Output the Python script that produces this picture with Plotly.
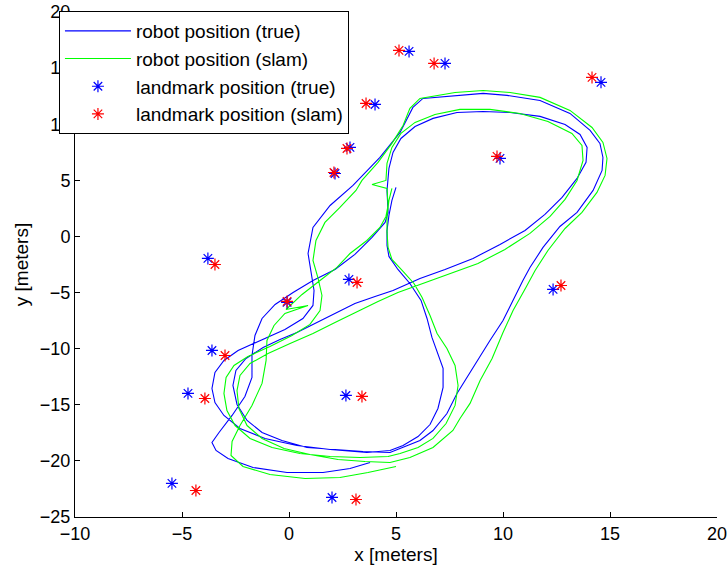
import plotly.graph_objects as go

# ---------------- data ----------------
# robot path, ground truth  (x, y) in meters
true_path = [
    (5.00, 4.37), (4.81, 3.21), (4.67, 1.87), (4.58, 0.53), (4.58, -0.80), (4.67, -1.78),
    (5.09, -2.94), (5.65, -4.19), (6.17, -5.70), (6.45, -7.31), (6.68, -9.00), (6.96, -10.43),
    (7.20, -11.76), (7.20, -13.46), (6.96, -15.33), (6.59, -16.76), (6.03, -17.83), (5.33, -18.63),
    (4.72, -19.07), (3.64, -19.25), (1.92, -18.98), (0.37, -18.63), (-1.12, -18.00), (-2.29, -17.11),
    (-3.04, -15.95), (-3.46, -14.80), (-3.60, -13.55), (-3.46, -12.12), (-3.04, -11.05), (-2.38, -10.16),
    (-1.36, -9.27), (-0.19, -8.29), (0.65, -7.31), (1.12, -6.15), (1.17, -4.81), (1.03, -3.21),
    (0.89, -1.52), (1.12, 0.80), (1.92, 2.76), (2.99, 4.55), (4.25, 7.04), (5.19, 9.27),
    (5.79, 11.50), (6.26, 12.30), (7.85, 12.57), (9.07, 12.75), (10.19, 12.57), (11.73, 12.12),
    (13.13, 10.96), (14.07, 9.45), (14.53, 8.29), (14.67, 7.04), (14.63, 5.88), (14.21, 4.10),
    (13.46, 2.14), (12.66, 0.89), (11.87, -0.98), (11.26, -2.76), (10.93, -3.92), (10.42, -5.88),
    (10.00, -7.49), (9.39, -9.27), (8.60, -11.68), (7.85, -13.99), (7.38, -15.78), (6.73, -17.29),
    (6.12, -18.18), (5.33, -18.81), (4.72, -19.25), (3.46, -19.16), (2.15, -18.98), (0.84, -18.81),
    (-0.33, -18.18), (-1.26, -17.47), (-1.96, -16.40), (-2.43, -14.97), (-2.62, -13.28), (-2.48, -11.94),
    (-2.01, -10.87), (-1.21, -9.89), (-0.42, -9.18), (0.37, -8.56), (1.21, -7.75), (2.15, -6.86),
    (3.08, -5.97), (4.02, -5.35), (4.86, -4.81), (6.12, -3.74), (7.29, -2.94), (8.60, -1.96),
    (9.86, -0.71), (11.03, 0.53), (11.96, 1.96), (12.76, 3.48), (13.46, 5.17), (13.88, 6.60),
    (13.93, 7.93), (13.60, 9.09), (12.90, 9.98), (11.73, 10.70), (10.33, 11.05), (9.07, 11.14),
    (7.85, 11.05), (6.73, 10.52), (5.89, 9.80), (5.23, 8.73), (4.86, 7.49), (4.67, 6.06),
    (4.58, 4.10), (4.63, 2.14), (4.49, 1.25), (3.88, -0.09), (3.08, -1.60), (2.15, -2.94),
    (1.12, -3.92), (0.19, -4.99), (-0.65, -6.06), (-1.26, -7.31), (-1.59, -8.82), (-1.73, -10.61),
    (-1.73, -12.57), (-2.06, -14.26), (-2.66, -15.95), (-3.27, -17.47), (-3.60, -18.36), (-3.41, -19.07),
    (-2.85, -19.79), (-1.68, -20.59), (-0.09, -21.03), (1.59, -21.03), (2.85, -20.68), (3.79, -20.14),
]

# robot path, SLAM estimate (x, y) in meters
slam_path = [
    (4.81, 4.28), (4.67, 3.21), (4.58, 1.87), (4.58, 0.36), (4.63, -0.98), (4.81, -2.05),
    (5.33, -3.12), (5.84, -4.19), (6.22, -5.44), (6.59, -7.04), (6.92, -8.65), (7.38, -9.98),
    (7.76, -11.50), (7.90, -13.28), (7.76, -15.06), (7.34, -16.67), (6.73, -18.00), (6.03, -18.81),
    (5.19, -19.34), (4.63, -19.61), (3.32, -19.70), (1.92, -19.61), (0.51, -19.34), (-0.79, -18.81),
    (-1.82, -18.00), (-2.52, -16.85), (-2.90, -15.51), (-3.04, -13.99), (-2.94, -12.57), (-2.57, -11.50),
    (-1.92, -10.70), (-0.89, -9.80), (0.14, -8.82), (0.98, -7.84), (1.45, -6.60), (1.54, -5.26),
    (1.36, -3.74), (1.12, -2.14), (1.26, -0.36), (1.68, 1.25), (2.38, 2.58), (2.85, 3.57),
    (3.13, 4.10), (3.41, 4.99), (4.16, 6.60), (4.81, 8.29), (5.33, 9.89), (5.65, 11.41),
    (6.12, 12.30), (7.76, 12.83), (9.07, 13.01), (10.33, 12.83), (11.73, 12.39), (13.13, 11.23),
    (14.16, 9.71), (14.67, 8.38), (14.86, 6.95), (14.77, 5.44), (14.39, 3.92), (13.69, 2.14),
    (12.90, 0.71), (12.10, -1.25), (11.50, -3.03), (11.07, -4.55), (10.47, -6.60), (10.00, -8.56),
    (9.49, -10.87), (8.93, -12.83), (8.46, -14.88), (7.99, -16.22), (7.66, -17.29), (6.73, -18.81),
    (5.65, -19.70), (4.72, -20.14), (3.55, -20.05), (2.29, -19.88), (0.98, -19.43), (-0.23, -18.90),
    (-1.26, -18.00), (-1.96, -16.85), (-2.34, -15.33), (-2.43, -13.73), (-2.29, -12.39), (-1.82, -11.32),
    (-0.98, -10.43), (0.05, -9.54), (1.12, -8.65), (2.15, -7.66), (3.18, -6.68), (4.16, -5.79),
    (5.09, -4.99), (6.36, -4.10), (7.52, -3.30), (8.83, -2.41), (10.09, -1.16), (11.26, 0.27),
    (12.20, 1.78), (12.90, 3.30), (13.46, 4.99), (13.74, 6.77), (13.69, 8.11), (13.22, 9.18),
    (12.10, 10.25), (10.79, 10.96), (9.39, 11.32), (7.99, 11.32), (6.82, 10.87), (5.89, 10.16),
    (5.23, 9.18), (4.81, 7.93), (4.58, 6.51), (4.53, 4.99), (3.88, 4.63), (4.58, 4.28),
    (4.63, 2.76), (4.53, 1.78), (4.25, 0.80), (3.64, -0.36), (2.85, -1.52), (2.24, -2.76),
    (1.45, -3.92), (0.61, -5.17), (-0.14, -6.51), (0.89, -6.15), (-0.19, -6.86), (-0.70, -7.93),
    (-1.03, -9.27), (-1.07, -11.05), (-1.26, -13.10), (-1.73, -15.06), (-2.29, -16.85), (-2.66, -18.27),
    (-2.71, -19.52), (-2.15, -20.50), (-0.89, -21.21), (0.75, -21.57), (2.38, -21.48), (3.69, -21.03),
    (5.00, -20.50),
]

# landmarks, ground truth
lm_true_x = [5.61, 7.29, 14.58, 4.02, 2.85, 2.15, 9.86, -3.79, 2.80, 12.34, -0.09, -3.60, -4.72, 2.66, -5.47, 2.01]
lm_true_y = [16.49, 15.42, 13.73, 11.76, 7.93, 5.61, 6.95, -1.96, -3.83, -4.72, -5.88, -10.16, -13.99, -14.17, -22.01, -23.26]
# landmarks, SLAM estimate
lm_slam_x = [5.14, 6.78, 14.16, 3.60, 2.71, 2.10, 9.72, -3.46, 3.18, 12.71, -0.09, -2.99, -3.93, 3.41, -4.35, 3.13]
lm_slam_y = [16.58, 15.42, 14.17, 11.85, 7.84, 5.70, 7.13, -2.50, -4.10, -4.37, -5.79, -10.61, -14.44, -14.26, -22.64, -23.44]

x_ticks = [-10, -5, 0, 5, 10, 15, 20]
y_ticks = [-25, -20, -15, -10, -5, 0, 5, 10, 15, 20]

# ---------------- figure ----------------
FONT = "Liberation Sans, Arial, Helvetica, sans-serif"

fig = go.Figure()
fig.add_trace(go.Scatter(
    x=[p[0] for p in true_path], y=[p[1] for p in true_path],
    mode="lines", name="robot position (true)", legendgroup="g1",
    line=dict(color="#0000FF", width=1.1),
))
fig.add_trace(go.Scatter(
    x=[p[0] for p in slam_path], y=[p[1] for p in slam_path],
    mode="lines", name="robot position (slam)", legendgroup="g2",
    line=dict(color="#00FF00", width=1.1),
))
fig.add_trace(go.Scatter(
    x=lm_true_x, y=lm_true_y, mode="markers", name="landmark position (true)", legendgroup="g3",
    marker=dict(symbol="asterisk-open", size=10, color="#0000FF",
                line=dict(color="#0000FF", width=1.2)),
))
fig.add_trace(go.Scatter(
    x=lm_slam_x, y=lm_slam_y, mode="markers", name="landmark position (slam)", legendgroup="g4",
    marker=dict(symbol="asterisk-open", size=10, color="#FF0000",
                line=dict(color="#FF0000", width=1.2)),
))

fig.update_layout(
    width=728, height=573,
    margin=dict(l=75, r=11, t=12, b=56, pad=0, autoexpand=False),
    paper_bgcolor="white", plot_bgcolor="white",
    font=dict(family=FONT, size=18, color="black"),
    showlegend=True,
    legend=dict(
        x=-0.025, y=1.002, xanchor="left", yanchor="top",
        bgcolor="white", bordercolor="black", borderwidth=1,
        itemwidth=66, tracegroupgap=0,
        font=dict(family=FONT, size=19, color="black"),
        traceorder="normal",
    ),
    xaxis=dict(
        range=[-10, 20], tickmode="array", tickvals=x_ticks,
        ticks="inside", ticklen=5, tickwidth=1, tickcolor="black",
        showline=True, linecolor="black", linewidth=1, mirror=False,
        showgrid=False, zeroline=False,
        title=dict(text="x [meters]", standoff=4, font=dict(size=19)),
        tickfont=dict(size=18),
    ),
    yaxis=dict(
        range=[-25, 20], tickmode="array", tickvals=y_ticks,
        ticks="inside", ticklen=5, tickwidth=1, tickcolor="black",
        showline=True, linecolor="black", linewidth=1, mirror=False,
        showgrid=False, zeroline=False,
        title=dict(text="y [meters]", standoff=6, font=dict(size=19)),
        tickfont=dict(size=18),
    ),
)

fig.write_html("out.html")
